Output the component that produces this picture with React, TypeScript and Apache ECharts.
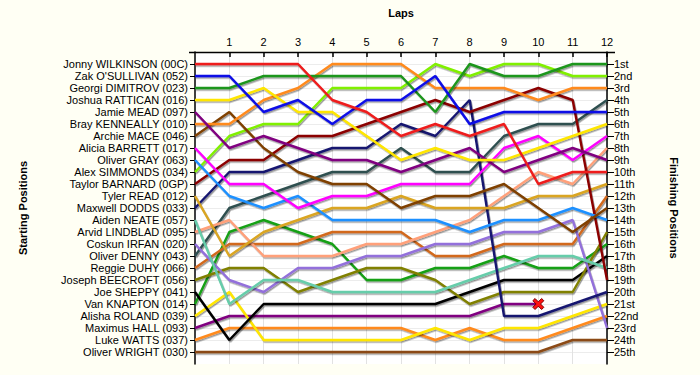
import React, { useEffect, useRef } from "react";
import * as echarts from "echarts";

const laps = [0, 1, 2, 3, 4, 5, 6, 7, 8, 9, 10, 11, 12];

const drivers = [
  "Jonny WILKINSON (00C)",
  "Zak O'SULLIVAN (052)",
  "Georgi DIMITROV (023)",
  "Joshua RATTICAN (016)",
  "Jamie MEAD (097)",
  "Bray KENNEALLY (010)",
  "Archie MACE (046)",
  "Alicia BARRETT (017)",
  "Oliver GRAY (063)",
  "Alex SIMMONDS (034)",
  "Taylor BARNARD (0GP)",
  "Tyler READ (012)",
  "Maxwell DODDS (033)",
  "Aiden NEATE (057)",
  "Arvid LINDBLAD (095)",
  "Coskun IRFAN (020)",
  "Oliver DENNY (043)",
  "Reggie DUHY (066)",
  "Joseph BEECROFT (056)",
  "Joe SHEPPY (041)",
  "Van KNAPTON (014)",
  "Alisha ROLAND (039)",
  "Maximus HALL (093)",
  "Luke WATTS (037)",
  "Oliver WRIGHT (030)",
];

const finishLabels = [
  "1st", "2nd", "3rd", "4th", "5th", "6th", "7th", "8th", "9th", "10th",
  "11th", "12th", "13th", "14th", "15th", "16th", "17th", "18th", "19th", "20th",
  "21st", "22nd", "23rd", "24th", "25th",
];

const lineColors = [
  "#ee1c1c", "#0a0ae6", "#1e961e", "#ffe600", "#800080",
  "#ff8a1e", "#7f4000", "#ff00ff", "#1e90ff", "#80f000",
  "#8b0000", "#daa520", "#191970", "#66cdaa", "#ffa07a",
  "#9370db", "#2f4f4f", "#d2691e", "#808000", "#000000",
  "#14a014", "#ffe600", "#800080", "#ff8a1e", "#8b4a13",
];

// position of each driver at the end of each lap (lap 0 = grid)
const lapPositions: number[][] = [
  [1, 1, 1, 1, 4, 5, 7, 6, 7, 6, 11, 10, 10],
  [2, 2, 5, 4, 6, 4, 4, 2, 6, 5, 5, 5, 5],
  [3, 3, 2, 2, 2, 2, 2, 5, 1, 2, 2, 1, 1],
  [4, 4, 3, 5, 5, 7, 9, 8, 9, 9, 8, 7, 6],
  [5, 8, 7, 8, 9, 9, 10, 9, 8, 10, 9, 8, 9],
  [6, 6, 4, 3, 1, 1, 1, 3, 3, 3, 4, 3, 3],
  [7, 5, 8, 10, 11, 11, 13, 12, 12, 11, 13, 15, 13],
  [8, 11, 11, 13, 12, 12, 11, 11, 11, 8, 7, 9, 7],
  [9, 12, 13, 12, 14, 14, 14, 14, 15, 14, 14, 13, 14],
  [10, 7, 6, 6, 3, 3, 3, 1, 2, 1, 1, 2, 2],
  [11, 9, 9, 7, 7, 6, 5, 4, 5, 4, 3, 4, 19],
  [12, 17, 15, 14, 13, 13, 12, 13, 13, 13, 12, 12, 11],
  [13, 10, 10, 9, 8, 8, 6, 7, 4, 22, 22, 21, 20],
  [14, 21, 19, 19, 20, 20, 20, 20, 19, 18, 17, 17, 18],
  [15, 14, 17, 17, 17, 16, 16, 15, 14, 12, 10, 11, 8],
  [16, 19, 20, 18, 18, 17, 17, 16, 16, 15, 15, 14, 23],
  [17, 13, 12, 11, 10, 10, 8, 10, 10, 7, 6, 6, 4],
  [18, 16, 16, 16, 15, 15, 15, 17, 17, 16, 16, 16, 12],
  [19, 18, 18, 20, 19, 18, 18, 19, 21, 20, 20, 20, 15],
  [20, 24, 21, 21, 21, 21, 21, 21, 20, 19, 19, 19, 17],
  [21, 15, 14, 15, 16, 19, 19, 18, 18, 17, 18, 18, 16],
  [22, 20, 24, 24, 24, 24, 24, 23, 24, 23, 23, 22, 21],
  [23, 22, 22, 22, 22, 22, 22, 22, 22, 21, 21],
  [24, 23, 23, 23, 23, 23, 23, 24, 23, 24, 24, 23, 22],
  [25, 25, 25, 25, 25, 25, 25, 25, 25, 25, 25, 24, 24],
];

const retiredDrivers = ["Maximus HALL (093)"];

const FONT = "'Liberation Sans', Arial, sans-serif";
const positionTicks = drivers.map((_, i) => i + 1);
const lapTicks = laps.slice(1);

export default function App() {
  const ref = useRef<HTMLDivElement>(null);

  useEffect(() => {
    document.body.style.margin = "0";
    if (!ref.current) return;
    const chart = echarts.init(ref.current, null, { renderer: "svg" });

    const xMarkPath =
      "path://M2,0 L5,3 L8,0 L10,2 L7,5 L10,8 L8,10 L5,7 L2,10 L0,8 L3,5 L0,2 Z";

    const series: any[] = drivers.map((name, i) => {
      const data = lapPositions[i].map((p, k) => [laps[k], p]);
      const s: any = {
        name,
        type: "line",
        data,
        symbol: "none",
        silent: true,
        z: 3 + (drivers.length - i) * 0.01,
        lineStyle: {
          color: lineColors[i],
          width: 2.4,
          shadowColor: "rgba(0,0,0,0.4)",
          shadowOffsetX: 1,
          shadowOffsetY: 1.5,
          shadowBlur: 1,
        },
        emphasis: { disabled: true },
      };
      if (retiredDrivers.includes(name)) {
        const last = data[data.length - 1];
        s.markPoint = {
          silent: true,
          symbol: xMarkPath,
          symbolSize: 11,
          itemStyle: { color: "#ff1010", borderColor: "#7a0000", borderWidth: 1 },
          label: { show: false },
          data: [{ coord: last }],
        };
      }
      return s;
    });

    chart.setOption({
      animation: false,
      backgroundColor: "#fffff4",
      textStyle: { fontFamily: FONT },
      graphic: [
        {
          type: "line",
          shape: { x1: 189, y1: 52.5, x2: 615, y2: 52.5 },
          style: { stroke: "#000", lineWidth: 1.5 },
          z: 10,
        },
      ],
      grid: {
        left: 195,
        right: 93,
        top: 52,
        bottom: 11,
        show: true,
        backgroundColor: "#ffffff",
        borderWidth: 0,
      },
      xAxis: {
        type: "value",
        position: "top",
        min: 0,
        max: 12,
        interval: 1,
        name: "Laps",
        nameLocation: "middle",
        nameGap: 34,
        nameTextStyle: { fontWeight: "bold", fontSize: 11, color: "#000", fontFamily: FONT },
        axisLine: { show: false },
        axisTick: {
          show: true,
          inside: true,
          length: 5,
          customValues: lapTicks,
          lineStyle: { color: "#000", width: 1.5 },
        },
        axisLabel: {
          customValues: lapTicks,
          fontSize: 11,
          color: "#000",
          margin: 5,
          fontFamily: FONT,
        },
        splitLine: { show: true, lineStyle: { color: "#e2e2e2", width: 1 } },
      },
      yAxis: [
        {
          type: "value",
          inverse: true,
          min: 0,
          max: 26,
          interval: 1,
          position: "left",
          name: "Starting Positions",
          nameLocation: "middle",
          nameRotate: 90,
          nameGap: 167,
          nameTextStyle: { fontWeight: "bold", fontSize: 11, color: "#000", fontFamily: FONT },
          axisLine: { show: true, lineStyle: { color: "#000", width: 1.5 } },
          axisTick: {
            show: true,
            length: 5,
            customValues: positionTicks,
            lineStyle: { color: "#000", width: 1 },
          },
          axisLabel: {
            customValues: positionTicks,
            formatter: (v: number) => drivers[v - 1] || "",
            fontSize: 11,
            color: "#000",
            margin: 7,
            fontFamily: FONT,
          },
          splitLine: { show: true, lineStyle: { color: "#ececec", width: 1 } },
        },
        {
          type: "value",
          inverse: true,
          min: 0,
          max: 26,
          interval: 1,
          position: "right",
          name: "Finishing Positions",
          nameLocation: "middle",
          nameRotate: -90,
          nameGap: 61,
          nameTextStyle: { fontWeight: "bold", fontSize: 11, color: "#000", fontFamily: FONT },
          axisLine: { show: true, lineStyle: { color: "#000", width: 1.5 } },
          axisTick: {
            show: true,
            length: 7,
            customValues: positionTicks,
            lineStyle: { color: "#000", width: 1 },
          },
          axisLabel: {
            customValues: positionTicks,
            formatter: (v: number) => finishLabels[v - 1] || "",
            fontSize: 11,
            color: "#000",
            margin: 7,
            fontFamily: FONT,
          },
          splitLine: { show: false },
        },
      ],
      series,
    });

    return () => chart.dispose();
  }, []);

  return (
    <div
      ref={ref}
      style={{ position: "fixed", left: 0, top: 0, width: 700, height: 375 }}
    />
  );
}
